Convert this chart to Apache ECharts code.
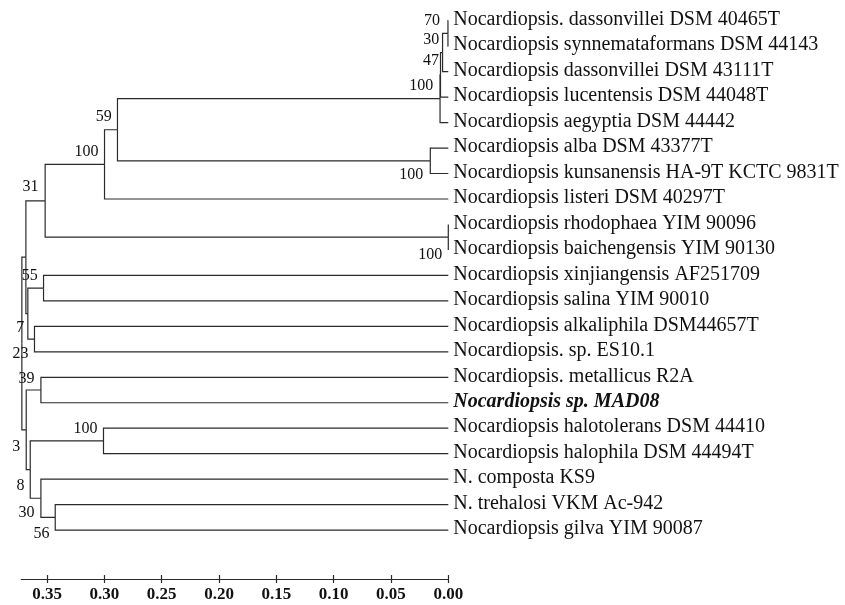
<!DOCTYPE html>
<html>
<head>
<meta charset="utf-8">
<script src="https://cdn.jsdelivr.net/npm/echarts@6/dist/echarts.min.js"></script>
<style>
  html, body { margin: 0; padding: 0; background: #fff; }
  #chart { width: 845px; height: 605px; }
</style>
</head>
<body>
<div id="chart"></div>
<script>
// Leaf taxa, listed top to bottom
const taxa = [
  'Nocardiopsis. dassonvillei DSM 40465T',
  'Nocardiopsis synnemataformans DSM 44143',
  'Nocardiopsis dassonvillei DSM 43111T',
  'Nocardiopsis lucentensis DSM 44048T',
  'Nocardiopsis aegyptia DSM 44442',
  'Nocardiopsis alba DSM 43377T',
  'Nocardiopsis kunsanensis HA-9T KCTC 9831T',
  'Nocardiopsis listeri DSM 40297T',
  'Nocardiopsis rhodophaea YIM 90096',
  'Nocardiopsis baichengensis YIM 90130',
  'Nocardiopsis xinjiangensis AF251709',
  'Nocardiopsis salina YIM 90010',
  'Nocardiopsis alkaliphila DSM44657T',
  'Nocardiopsis. sp. ES10.1',
  'Nocardiopsis. metallicus R2A',
  'Nocardiopsis sp. MAD08',
  'Nocardiopsis halotolerans DSM 44410',
  'Nocardiopsis halophila DSM 44494T',
  'N. composta KS9',
  'N. trehalosi VKM Ac-942',
  'Nocardiopsis gilva YIM 90087'
];
// The studied strain, highlighted in the tree
const highlightTaxon = 'Nocardiopsis sp. MAD08';

// Internal nodes: two children each (numbers = leaf index, 'nK' = internal node K)
const nodeChildren = [
  [0, 1], ['n0', 2], ['n1', 3], ['n2', 4], [5, 6],
  ['n3', 'n4'], ['n5', 7], [8, 9], ['n6', 'n7'], [10, 11],
  [12, 13], ['n9', 'n10'], ['n8', 'n11'], [14, 15], [16, 17],
  [19, 20], [18, 'n15'], ['n14', 'n16'], ['n13', 'n17'], ['n12', 'n18']
];
// Distance of each internal node from the tips
const nodeDistance = [
  0.0003, 0.0050, 0.0068, 0.0072, 0.0157,
  0.2886, 0.2999, 0.0000, 0.3517, 0.3531,
  0.3610, 0.3668, 0.3685, 0.3554, 0.3008,
  0.3429, 0.3554, 0.3647, 0.3682, 0.3720
];
// Bootstrap support of each internal node (null = not shown)
const bootstrap = [
  70, 30, 47, 100, 100,
  59, 100, 100, 31, 55,
  23, 7, null, 39, 100,
  56, 30, 8, 3, null
];
// Scale bar ticks
const distTicks = [0, 0.05, 0.10, 0.15, 0.20, 0.25, 0.30, 0.35];

// ---- layout ----
const FONT = '"Liberation Serif", "Times New Roman", Times, serif';
const LINE = '#2a2a2a';
const GRID = { left: 21.3, right: 396.7, top: 20.7, bottom: 26 };
const GRID_H = 605 - GRID.top - GRID.bottom;
// pixel offset of each bootstrap label (right edge, vertical centre) from its node
const bootstrapOffset = [
  [-8, -12.9], [-3.3, -12.5], [-1.5, -14], [-6.7, -12.9], [-7, 14],
  [-5.7, -12.7], [-6.1, -12.4], [-6, 17.5], [-6.7, -13.6], [-5.7, -11.9],
  [-6.1, 15.2], [-3.7, 14.6], [0, 0], [-6.5, -11.3], [-6.1, -11.8],
  [-5.8, 16.8], [-6.5, 15], [-5.8, 16.2], [-6.1, 17], [0, 0]
];

// Resolve node positions: leaves sit at distance 0 on their own row,
// internal nodes sit midway between their children.
function ref(c) {
  if (typeof c === 'number') return { leaf: true, i: c };
  return { leaf: false, i: parseInt(c.slice(1), 10) };
}
const nodeRow = [];
function posOf(c) {
  const r = ref(c);
  if (r.leaf) return [0, r.i];
  return [nodeDistance[r.i], nodeRow[r.i]];
}
nodeChildren.forEach((ch, k) => {
  const a = posOf(ch[0]), b = posOf(ch[1]);
  nodeRow[k] = (a[1] + b[1]) / 2;
});

// Elbow branches: node vertical -> child row -> child tip
const branches = [];
nodeChildren.forEach((ch, k) => {
  const d = nodeDistance[k], y = nodeRow[k];
  ch.forEach(c => {
    const p = posOf(c);
    branches.push({ coords: [[d, y], [d, p[1]], [p[0], p[1]]] });
  });
});

const leafData = taxa.map((t, i) => [0, i, i]);
const bootData = [];
bootstrap.forEach((v, k) => {
  if (v !== null) bootData.push([nodeDistance[k], nodeRow[k], k]);
});

const chart = echarts.init(document.getElementById('chart'), null, { renderer: 'canvas' });

const axisBase = {
  type: 'value', inverse: true, min: 0, max: 0.3725,
  splitLine: { show: false }
};

chart.setOption({
  animation: false,
  backgroundColor: '#ffffff',
  grid: Object.assign({ containLabel: false }, GRID),
  xAxis: [
    // scale bar: line, downward ticks and labels
    Object.assign({}, axisBase, {
      position: 'bottom',
      axisLine: { show: true, onZero: false, lineStyle: { color: LINE, width: 1.2 } },
      axisTick: { show: true, inside: false, length: 4, customValues: distTicks,
        lineStyle: { color: LINE, width: 1.2 } },
      axisLabel: { show: true, customValues: distTicks, margin: 7,
        formatter: v => v.toFixed(2),
        fontFamily: FONT, fontSize: 17, fontWeight: 'bold', color: '#111' }
    }),
    // same scale bar, upward half of the ticks
    Object.assign({}, axisBase, {
      position: 'bottom',
      axisLine: { show: false, onZero: false },
      axisTick: { show: true, inside: true, length: 4, customValues: distTicks,
        lineStyle: { color: LINE, width: 1.2 } },
      axisLabel: { show: false }
    })
  ],
  yAxis: { type: 'value', inverse: true, min: 0, max: 21.92, show: false,
    axisLine: { onZero: false } },
  series: [
    {
      type: 'lines',
      coordinateSystem: 'cartesian2d',
      polyline: true,
      silent: true,
      lineStyle: { color: LINE, width: 1.2, opacity: 1 },
      data: branches
    },
    {
      type: 'custom',
      silent: true,
      data: leafData,
      encode: { x: 0, y: 1 },
      renderItem: (params, api) => {
        const p = api.coord([api.value(0), api.value(1)]);
        const name = taxa[api.value(2)];
        const hl = name === highlightTaxon;
        return {
          type: 'text', x: p[0] + 5, y: p[1] - 1,
          style: {
            text: name, fill: '#111', fontFamily: FONT, fontSize: 20,
            fontStyle: hl ? 'italic' : 'normal', fontWeight: hl ? 'bold' : 'normal',
            align: 'left', verticalAlign: 'middle'
          }
        };
      }
    },
    {
      type: 'custom',
      silent: true,
      data: bootData,
      encode: { x: 0, y: 1 },
      renderItem: (params, api) => {
        const k = api.value(2);
        const p = api.coord([api.value(0), api.value(1)]);
        const off = bootstrapOffset[k];
        return {
          type: 'text', x: p[0] + off[0], y: p[1] + off[1],
          style: {
            text: String(bootstrap[k]), fill: '#111', fontFamily: FONT, fontSize: 16,
            align: 'right', verticalAlign: 'middle'
          }
        };
      }
    }
  ]
});
</script>
</body>
</html>
